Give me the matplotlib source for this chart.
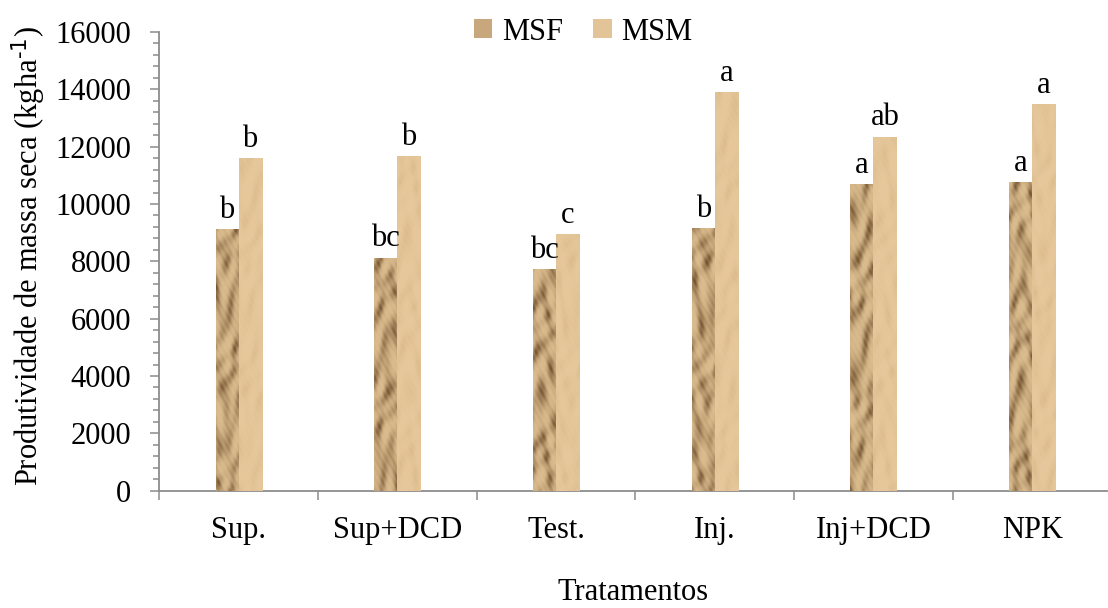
import numpy as np
import matplotlib
matplotlib.use("Agg")
import matplotlib.pyplot as plt
from matplotlib.ticker import MultipleLocator, FixedLocator

plt.rcParams['font.family'] = ['Liberation Serif', 'DejaVu Serif']
plt.rcParams['mathtext.default'] = 'regular'

# data
tratamentos = ['Sup.', 'Sup+DCD', 'Test.', 'Inj.', 'Inj+DCD', 'NPK']
msf = [9120, 8130, 7740, 9170, 10700, 10770]
msm = [11600, 11660, 8960, 13890, 12350, 13500]
letras_msf = ['b', 'bc', 'bc', 'b', 'a', 'a']
letras_msm = ['b', 'b', 'c', 'a', 'ab', 'a']

fs = 22
grey = '#8c8c8c'
bar_w = 0.145


def paper_texture(h, w, light, dark, strength, shift=0.0):
    # deterministic "crumpled paper" look built from a few sines
    yy, xx = np.mgrid[0:h, 0:w].astype(float)
    v = (np.sin(yy * 0.11 + 2.6 * np.sin(xx * 0.19 + shift) + 1.5 * np.sin(yy * 0.023 + shift))
         + 0.8 * np.sin(yy * 0.17 - xx * 0.28 + 2.1 * np.sin(yy * 0.05 + shift * 1.3))
         + 0.5 * np.sin(yy * 0.041 + xx * 0.47 + shift * 2)
         + 0.3 * np.sin(yy * 0.63 + xx * 1.1))
    v = (v - v.min()) / (v.max() - v.min())
    v = v ** 2.2 * strength
    light = np.array(light) / 255.0
    dark = np.array(dark) / 255.0
    return light * (1 - v[..., None]) + dark * v[..., None]


fig = plt.figure(figsize=(11.08, 6.08), dpi=100)
ax = fig.add_axes([159.3 / 1108, 1 - 490.7 / 608, (1107 - 159.3) / 1108, (490.7 - 32) / 608])

x = np.arange(len(tratamentos))
b1 = ax.bar(x - bar_w / 2, msf, width=bar_w, color='#c9a77c', label='MSF', zorder=2)
b2 = ax.bar(x + bar_w / 2, msm, width=bar_w, color='#e2c498', label='MSM', zorder=2)

xlim = (-0.5, -0.5 + (1107 - 159.3) / 158.7)
ylim = (0, 16000)

# texture fill clipped to each bar
for i, patch in enumerate(b1.patches):
    x0, y0 = patch.get_x(), patch.get_y()
    w, h = patch.get_width(), patch.get_height()
    tex = paper_texture(int(h / 35), 24, (218, 188, 142), (105, 72, 38), 0.9, shift=i * 1.7)
    im = ax.imshow(tex, extent=(x0, x0 + w, y0, y0 + h), aspect='auto', origin='lower', zorder=3,
                   interpolation='bilinear')
    im.set_clip_path(patch)
for i, patch in enumerate(b2.patches):
    x0, y0 = patch.get_x(), patch.get_y()
    w, h = patch.get_width(), patch.get_height()
    tex = paper_texture(int(h / 35), 24, (230, 200, 156), (210, 176, 128), 0.5, shift=i * 2.3 + 0.5)
    im = ax.imshow(tex, extent=(x0, x0 + w, y0, y0 + h), aspect='auto', origin='lower', zorder=3,
                   interpolation='bilinear')
    im.set_clip_path(patch)

ax.set_xlim(*xlim)
ax.set_ylim(*ylim)

# significance letters
for bars, letras in ((b1, letras_msf), (b2, letras_msm)):
    for patch, lt in zip(bars.patches, letras):
        ax.annotate(lt, (patch.get_x() + patch.get_width() / 2, patch.get_height()),
                    xytext=(0, 3), textcoords='offset points', ha='center', va='bottom',
                    fontsize=fs, zorder=4)

# axes styling
for s in ('top', 'right'):
    ax.spines[s].set_visible(False)
for s in ('left', 'bottom'):
    ax.spines[s].set_color(grey)
    ax.spines[s].set_linewidth(1.3)

ax.yaxis.set_major_locator(MultipleLocator(2000))
ax.yaxis.set_minor_locator(MultipleLocator(400))
ax.tick_params(axis='y', which='major', length=6.2, width=1.1, color=grey, pad=14, labelsize=fs)
ax.tick_params(axis='y', which='minor', length=4.6, width=1.1, color=grey)

ax.set_xticks(x)
ax.set_xticklabels(tratamentos)
ax.xaxis.set_minor_locator(FixedLocator(np.arange(-0.5, 6, 1.0)))
ax.tick_params(axis='x', which='major', length=0, pad=18, labelsize=fs)
ax.tick_params(axis='x', which='minor', length=6.5, width=1.1, color=grey)

ax.set_ylabel(r'Produtividade de massa seca (kgha$^{\text{-1}}$)', fontsize=fs, va='center')
ax.yaxis.set_label_coords(-(159.3 - 29) / 948, (490.7 - 256) / 458.7)
ax.set_xlabel('Tratamentos', fontsize=fs, va='center')
ax.xaxis.set_label_coords(0.5, -(593 - 490.7) / 458.7)

fig.legend(handles=[b1, b2], loc='center', bbox_to_anchor=(583 / 1108, 1 - 32 / 608), ncol=2,
           frameon=False, fontsize=fs, handlelength=0.6, handleheight=0.6, handletextpad=0.3,
           columnspacing=1.0, borderpad=0)

fig.savefig('out.png', dpi=100)
